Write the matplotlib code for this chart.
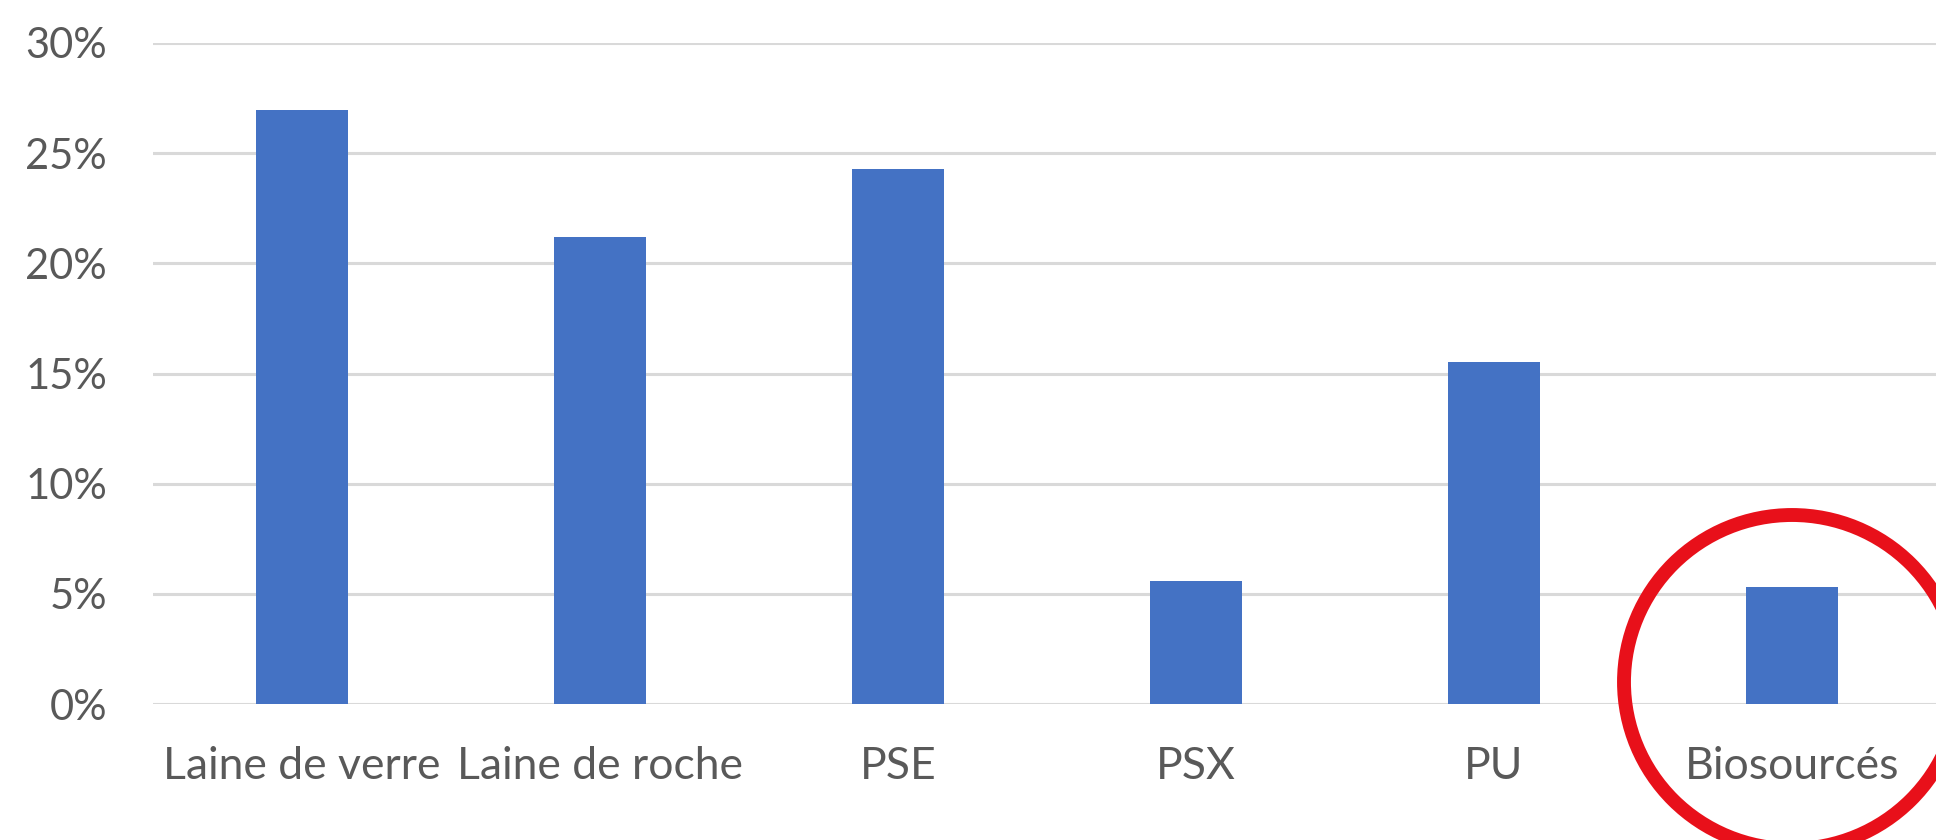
from matplotlib import pyplot as plt
from matplotlib.patches import Ellipse
from matplotlib.ticker import PercentFormatter
import numpy as np

categories = ['Laine de verre', 'Laine de roche', 'PSE', 'PSX', 'PU', 'Biosourcés']
shares = [26.95, 21.2, 24.3, 5.6, 15.5, 5.3]
y_ticks = [0, 5, 10, 15, 20, 25, 30]

W, H = 1936, 840
fig = plt.figure(figsize=(W / 100, H / 100), dpi=100)
# axes in pixel units: left 153, 0% at y=704, 30% at y=43 (from top)
ax = fig.add_axes([153 / W, 136 / H, 1788 / W, 661 / H])

x = np.arange(len(categories))
ax.bar(x, shares, width=0.31, color='#4472C4', zorder=3)

ax.set_xlim(-0.5, len(categories) - 0.5)
ax.set_ylim(0, 30)
ax.set_yticks(y_ticks)
ax.yaxis.set_major_formatter(PercentFormatter(decimals=0))
ax.set_xticks(x)
ax.set_xticklabels(categories)
ax.grid(axis='y', color='#d9d9d9', linewidth=2.2, zorder=0)
ax.set_axisbelow(True)
for s in ax.spines.values():
    s.set_visible(False)
ax.tick_params(length=0, labelcolor='#595959')
ax.tick_params(axis='y', pad=33, labelsize=30)
ax.tick_params(axis='x', pad=30, labelsize=32)
for lbl in ax.get_xticklabels() + ax.get_yticklabels():
    lbl.set_fontfamily(['Lato', 'DejaVu Sans'])

# red circle round the last category
circle = Ellipse((1792 / W, 1 - 682 / H), 2 * 168 / W, 2 * 167 / H,
                 transform=fig.transFigure, fill=False,
                 edgecolor='#e8101a', linewidth=10, zorder=10)
fig.patches.append(circle)

plt.savefig('out.png', dpi=100)
